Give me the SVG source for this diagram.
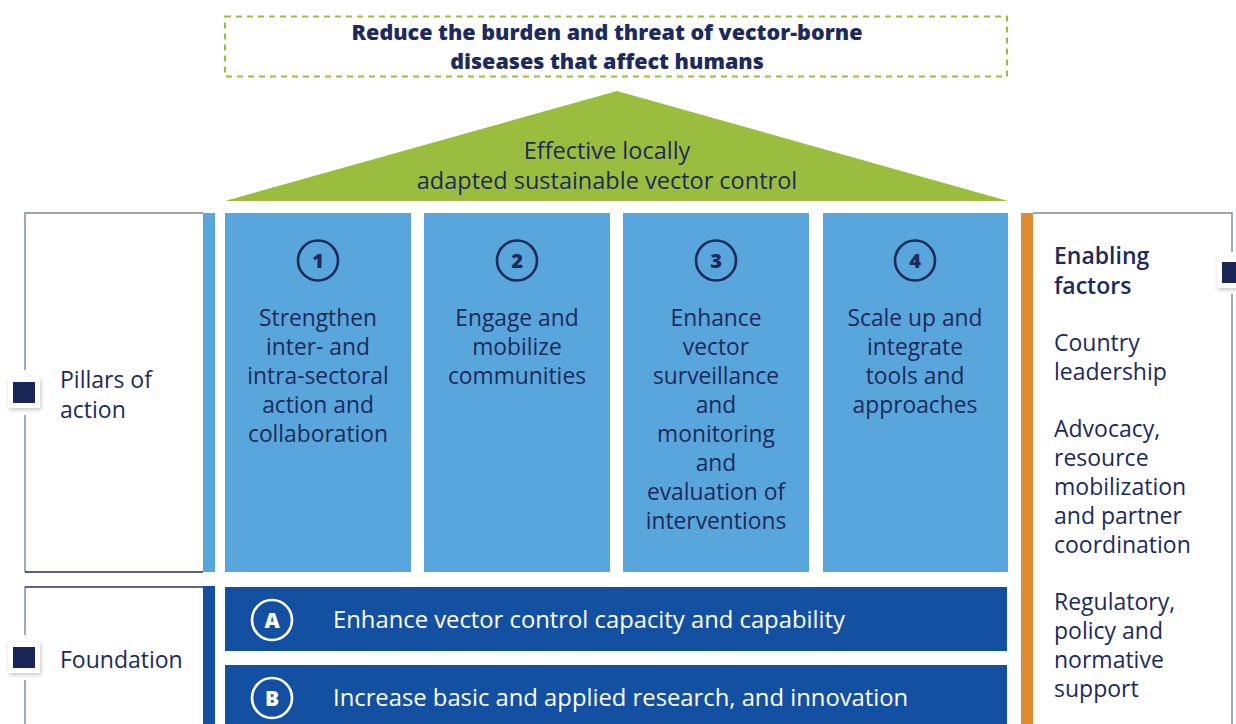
<svg xmlns="http://www.w3.org/2000/svg" width="1236" height="724" viewBox="0 0 1236 724">
  <defs>
    <filter id="soft" x="-40%" y="-40%" width="180%" height="180%">
      <feDropShadow dx="1" dy="2" stdDeviation="2" flood-color="#000" flood-opacity="0.22"/>
    </filter>
    <style>
      .t { font-family: "Open Sans", Lato, sans-serif; fill: #1d2a5a; }
      .pill { fill: #58a6dc; }
      .pt { font-size: 22.8px; text-anchor: middle; }
      .num { fill: none; stroke: #1d2a5a; stroke-width: 2.6; }
      .numt { font-family: "Open Sans", sans-serif; font-weight: 800; font-size: 20px; fill: #1d2a5a; text-anchor: middle; }
      .bar { fill: #1450a2; }
      .bt { font-family: "Open Sans", sans-serif; font-size: 23.8px; fill: #ffffff; }
      .ring { fill: none; stroke: #ffffff; stroke-width: 2.6; }
      .ringt { font-family: "Open Sans", sans-serif; font-weight: 800; font-size: 21px; fill: #ffffff; text-anchor: middle; }
      .frame { fill: none; stroke: #7c86a2; stroke-width: 1.4; }
      .side { font-size: 23px; }
    </style>
  </defs>

  <rect width="1236" height="724" fill="#ffffff"/>

  <!-- goal -->
  <g id="goal">
    <rect x="225" y="16.5" width="782" height="60" fill="none" stroke="#9bbd3f" stroke-width="2.2" stroke-dasharray="6 5"/>
    <text class="t" x="607" y="40" font-size="21.5" font-weight="800" text-anchor="middle">Reduce the burden and threat of vector-borne</text>
    <text class="t" x="607" y="69" font-size="21.5" font-weight="800" text-anchor="middle">diseases that affect humans</text>
  </g>

  <!-- roof -->
  <g id="roof">
    <polygon points="225,201 617,91 1008,201" fill="#9bbd3f"/>
    <text class="t" x="607" y="159" font-size="23.5" text-anchor="middle">Effective locally</text>
    <text class="t" x="607" y="189" font-size="23.5" text-anchor="middle">adapted sustainable vector control</text>
  </g>

  <!-- pillars label box -->
  <g id="pillars-label">
    <path d="M25,370 V213 H203" class="frame"/>
    <path d="M25,415 V572" class="frame"/>
    <line x1="25" y1="572" x2="203" y2="572" stroke="#1d2a5a" stroke-width="1.4"/>
    <rect x="203" y="213" width="12" height="359" fill="#58a6dc"/>
    <rect x="8" y="377" width="32" height="31" fill="#ffffff" filter="url(#soft)"/>
    <rect x="13" y="382" width="22" height="21" fill="#1b2658"/>
    <text class="t side" x="60" y="388">Pillars of</text>
    <text class="t side" x="60" y="418">action</text>
  </g>

  <!-- pillar 1 -->
  <g id="pillar-1">
    <rect class="pill" x="225" y="213" width="186" height="359"/>
    <circle class="num" cx="318" cy="260.5" r="20"/>
    <text class="numt" x="318" y="268">1</text>
    <text class="t pt" x="318" y="326">Strengthen</text>
    <text class="t pt" x="318" y="355">inter- and</text>
    <text class="t pt" x="318" y="384">intra-sectoral</text>
    <text class="t pt" x="318" y="413">action and</text>
    <text class="t pt" x="318" y="442">collaboration</text>
  </g>

  <!-- pillar 2 -->
  <g id="pillar-2">
    <rect class="pill" x="424" y="213" width="186" height="359"/>
    <circle class="num" cx="517" cy="260.5" r="20"/>
    <text class="numt" x="517" y="268">2</text>
    <text class="t pt" x="517" y="326">Engage and</text>
    <text class="t pt" x="517" y="355">mobilize</text>
    <text class="t pt" x="517" y="384">communities</text>
  </g>

  <!-- pillar 3 -->
  <g id="pillar-3">
    <rect class="pill" x="623" y="213" width="186" height="359"/>
    <circle class="num" cx="716" cy="260.5" r="20"/>
    <text class="numt" x="716" y="268">3</text>
    <text class="t pt" x="716" y="326">Enhance</text>
    <text class="t pt" x="716" y="355">vector</text>
    <text class="t pt" x="716" y="384">surveillance</text>
    <text class="t pt" x="716" y="413">and</text>
    <text class="t pt" x="716" y="442">monitoring</text>
    <text class="t pt" x="716" y="471">and</text>
    <text class="t pt" x="716" y="500">evaluation of</text>
    <text class="t pt" x="716" y="529">interventions</text>
  </g>

  <!-- pillar 4 -->
  <g id="pillar-4">
    <rect class="pill" x="823" y="213" width="185" height="359"/>
    <circle class="num" cx="915" cy="260.5" r="20"/>
    <text class="numt" x="915" y="268">4</text>
    <text class="t pt" x="915" y="326">Scale up and</text>
    <text class="t pt" x="915" y="355">integrate</text>
    <text class="t pt" x="915" y="384">tools and</text>
    <text class="t pt" x="915" y="413">approaches</text>
  </g>

  <!-- foundation label box -->
  <g id="foundation-label">
    <path d="M25,635 V587 H203" class="frame"/>
    <line x1="25" y1="587" x2="203" y2="587" stroke="#1d2a5a" stroke-width="1.2"/>
    <path d="M25,680 V724" class="frame"/>
    <rect x="203" y="586" width="12" height="138" fill="#1450a2"/>
    <rect x="8" y="642" width="32" height="31" fill="#ffffff" filter="url(#soft)"/>
    <rect x="13" y="647" width="22" height="21" fill="#1b2658"/>
    <text class="t side" x="60" y="668">Foundation</text>
  </g>

  <!-- foundation A -->
  <g id="foundation-a">
    <rect class="bar" x="225" y="587" width="782" height="64"/>
    <circle class="ring" cx="272" cy="620" r="20"/>
    <text class="ringt" x="272" y="627.5">A</text>
    <text class="bt" x="333" y="628">Enhance vector control capacity and capability</text>
  </g>

  <!-- foundation B -->
  <g id="foundation-b">
    <rect class="bar" x="225" y="665" width="782" height="59"/>
    <circle class="ring" cx="272" cy="698" r="20"/>
    <text class="ringt" x="272" y="705.5">B</text>
    <text class="bt" x="333" y="706">Increase basic and applied research, and innovation</text>
  </g>

  <!-- enabling factors -->
  <g id="enabling-factors">
    <rect x="1021" y="213" width="12" height="511" fill="#e08c33"/>
    <path d="M1033,213 H1232 V252" class="frame"/>
    <path d="M1232,294 V724" class="frame"/>
    <rect x="1217" y="257" width="32" height="31" fill="#ffffff" filter="url(#soft)"/>
    <rect x="1222" y="262" width="22" height="21" fill="#1b2658"/>
    <text class="t side" x="1054" y="264" font-weight="600">Enabling</text>
    <text class="t side" x="1054" y="294" font-weight="600">factors</text>
    <text class="t side" x="1054" y="351">Country</text>
    <text class="t side" x="1054" y="380">leadership</text>
    <text class="t side" x="1054" y="437">Advocacy,</text>
    <text class="t side" x="1054" y="466">resource</text>
    <text class="t side" x="1054" y="495">mobilization</text>
    <text class="t side" x="1054" y="524">and partner</text>
    <text class="t side" x="1054" y="553">coordination</text>
    <text class="t side" x="1054" y="610">Regulatory,</text>
    <text class="t side" x="1054" y="639">policy and</text>
    <text class="t side" x="1054" y="668">normative</text>
    <text class="t side" x="1054" y="697">support</text>
  </g>
</svg>
